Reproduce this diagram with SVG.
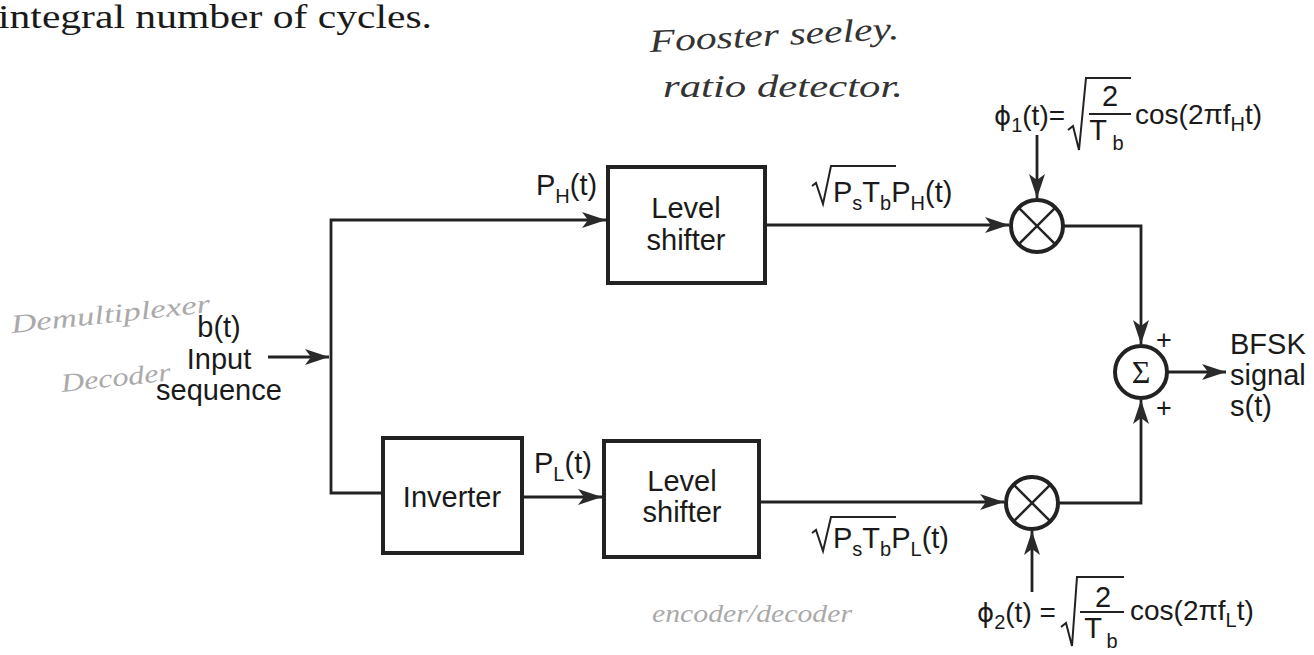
<svg xmlns="http://www.w3.org/2000/svg" width="1314" height="655" viewBox="0 0 1314 655">
  <defs>
    <marker id="arr" markerUnits="userSpaceOnUse" markerWidth="26" markerHeight="18" refX="24" refY="9" orient="auto">
      <path d="M0,1 L24,9 L0,17 L6,9 Z" fill="#2a2a2a"/>
    </marker>
    <style>
      .t { font-family: "Liberation Sans", Arial, sans-serif; font-size: 29px; fill: #1a1a1a; }
      .sub { font-size: 20px; }
      .box { fill: none; stroke: #222; stroke-width: 4; }
      .wire { fill: none; stroke: #222; stroke-width: 2.8; }
      .circ { fill: none; stroke: #222; stroke-width: 4; }
      .x { stroke: #222; stroke-width: 2.5; }
      .rad { fill: none; stroke: #222; stroke-width: 2; }
      .hand { font-family: "Liberation Serif", serif; font-style: italic; font-size: 32px; fill: #333; }
      .faint { font-family: "Liberation Serif", serif; font-style: italic; font-size: 26px; fill: #aaa; }
      .book { font-family: "Liberation Serif", "Times New Roman", serif; font-size: 34px; fill: #1a1a1a; }
    </style>
  </defs>
  <rect width="1314" height="655" fill="#fff"/>

  <text class="book" x="-2" y="28" textLength="434" lengthAdjust="spacingAndGlyphs">integral number of cycles.</text>

  <g id="notes">
    <text class="hand" x="650" y="52" textLength="250" lengthAdjust="spacingAndGlyphs" transform="rotate(-3 650 52)">Fooster seeley.</text>
    <text class="hand" x="663" y="97" textLength="240" lengthAdjust="spacingAndGlyphs">ratio detector.</text>
    <text class="faint" x="12" y="333" textLength="200" lengthAdjust="spacingAndGlyphs" transform="rotate(-6 12 333)">Demultiplexer</text>
    <text class="faint" x="62" y="392" textLength="110" lengthAdjust="spacingAndGlyphs" transform="rotate(-6 62 392)">Decoder</text>
    <text class="faint" x="652" y="622" textLength="200" lengthAdjust="spacingAndGlyphs">encoder/decoder</text>
  </g>

  <g id="connectors">
    <path class="wire" d="M268,357 H329" marker-end="url(#arr)"/>
    <path class="wire" d="M383,493 H331 V220 H606" marker-end="url(#arr)"/>
    <path class="wire" d="M522,497 H602" marker-end="url(#arr)"/>
    <path class="wire" d="M765,225 H1009" marker-end="url(#arr)"/>
    <path class="wire" d="M759,502 H1004" marker-end="url(#arr)"/>
    <path class="wire" d="M1037,135 V198" marker-end="url(#arr)"/>
    <path class="wire" d="M1032,592 V531" marker-end="url(#arr)"/>
    <path class="wire" d="M1063,226 H1141 V344" marker-end="url(#arr)"/>
    <path class="wire" d="M1058,503 H1141 V400" marker-end="url(#arr)"/>
    <path class="wire" d="M1167,372 H1226" marker-end="url(#arr)"/>
  </g>

  <g id="input">
    <text class="t" x="219" y="337" text-anchor="middle">b(t)</text>
    <text class="t" x="219" y="369" text-anchor="middle">Input</text>
    <text class="t" x="219" y="400" text-anchor="middle">sequence</text>
  </g>

  <g id="label-ph">
    <text class="t" x="536" y="195">P<tspan class="sub" dy="8">H</tspan><tspan dy="-8">(t)</tspan></text>
  </g>
  <g id="label-pl">
    <text class="t" x="534" y="473">P<tspan class="sub" dy="8">L</tspan><tspan dy="-8">(t)</tspan></text>
  </g>

  <g id="level-shifter-1">
    <rect class="box" x="608" y="167" width="157" height="116"/>
    <text class="t" x="686" y="218" text-anchor="middle">Level</text>
    <text class="t" x="686" y="250" text-anchor="middle">shifter</text>
  </g>

  <g id="inverter">
    <rect class="box" x="383" y="438" width="139" height="115"/>
    <text class="t" x="452" y="507" text-anchor="middle">Inverter</text>
  </g>

  <g id="level-shifter-2">
    <rect class="box" x="604" y="441" width="155" height="116"/>
    <text class="t" x="682" y="491" text-anchor="middle">Level</text>
    <text class="t" x="682" y="522" text-anchor="middle">shifter</text>
  </g>

  <g id="label-amp-h">
    <path class="rad" d="M812,186 L816,183 L823,204 L831,166 H896"/>
    <text class="t" x="833" y="202">P<tspan class="sub" dy="8">s</tspan><tspan dy="-8">T</tspan><tspan class="sub" dy="8">b</tspan><tspan dy="-8">P</tspan><tspan class="sub" dy="8">H</tspan><tspan dy="-8">(t)</tspan></text>
  </g>
  <g id="label-amp-l">
    <path class="rad" d="M812,533 L816,530 L823,551 L831,517 H896"/>
    <text class="t" x="833" y="548">P<tspan class="sub" dy="8">s</tspan><tspan dy="-8">T</tspan><tspan class="sub" dy="8">b</tspan><tspan dy="-8">P</tspan><tspan class="sub" dy="8">L</tspan><tspan dy="-8">(t)</tspan></text>
  </g>

  <g id="multiplier-1">
    <circle class="circ" cx="1037" cy="226" r="26"/>
    <line class="x" x1="1018.6" y1="207.6" x2="1055.4" y2="244.4"/>
    <line class="x" x1="1055.4" y1="207.6" x2="1018.6" y2="244.4"/>
  </g>

  <g id="multiplier-2">
    <circle class="circ" cx="1032" cy="503" r="26"/>
    <line class="x" x1="1013.6" y1="484.6" x2="1050.4" y2="521.4"/>
    <line class="x" x1="1050.4" y1="484.6" x2="1013.6" y2="521.4"/>
  </g>

  <g id="summer">
    <circle class="circ" cx="1141" cy="372" r="26"/>
    <text x="1141" y="383" text-anchor="middle" style="font-family:'Liberation Serif',serif;font-size:32px;fill:#1a1a1a">Σ</text>
    <text class="t" x="1164" y="349" text-anchor="middle" style="font-size:27px">+</text>
    <text class="t" x="1164" y="417" text-anchor="middle" style="font-size:27px">+</text>
  </g>

  <g id="output">
    <text class="t" x="1230" y="354">BFSK</text>
    <text class="t" x="1230" y="385">signal</text>
    <text class="t" x="1230" y="416">s(t)</text>
  </g>

  <g id="phi1">
    <text class="t" x="994" y="125" style="font-family:'DejaVu Sans','Liberation Sans',sans-serif;font-size:26px">ϕ<tspan class="sub" dy="7" style="font-family:'Liberation Sans',sans-serif">1</tspan><tspan dy="-7" style="font-family:'Liberation Sans',sans-serif;font-size:28px">(t)=</tspan></text>
    <path class="rad" d="M1068,130 L1073,126 L1079,150 L1086,78 H1131"/>
    <text class="t" x="1110" y="106" text-anchor="middle">2</text>
    <line class="rad" x1="1089" y1="114" x2="1131" y2="114"/>
    <text class="t" x="1098" y="140" text-anchor="middle">T</text>
    <text class="t sub" x="1118" y="150" text-anchor="middle">b</text>
    <text class="t" x="1135" y="124" style="font-size:28px">cos(2πf<tspan class="sub" dy="7">H</tspan><tspan dy="-7">t)</tspan></text>
  </g>

  <g id="phi2">
    <text class="t" x="977" y="622" style="font-family:'DejaVu Sans','Liberation Sans',sans-serif;font-size:26px">ϕ<tspan class="sub" dy="7" style="font-family:'Liberation Sans',sans-serif">2</tspan><tspan dy="-7" style="font-family:'Liberation Sans',sans-serif;font-size:28px">(t) =</tspan></text>
    <path class="rad" d="M1061,627 L1066,623 L1072,646 L1077,577 H1124"/>
    <text class="t" x="1103" y="607" text-anchor="middle">2</text>
    <line class="rad" x1="1080" y1="612" x2="1124" y2="612"/>
    <text class="t" x="1093" y="638" text-anchor="middle">T</text>
    <text class="t sub" x="1112" y="648" text-anchor="middle">b</text>
    <text class="t" x="1130" y="620" style="font-size:28px">cos(2πf<tspan class="sub" dy="7">L</tspan><tspan dy="-7">t)</tspan></text>
  </g>
</svg>
